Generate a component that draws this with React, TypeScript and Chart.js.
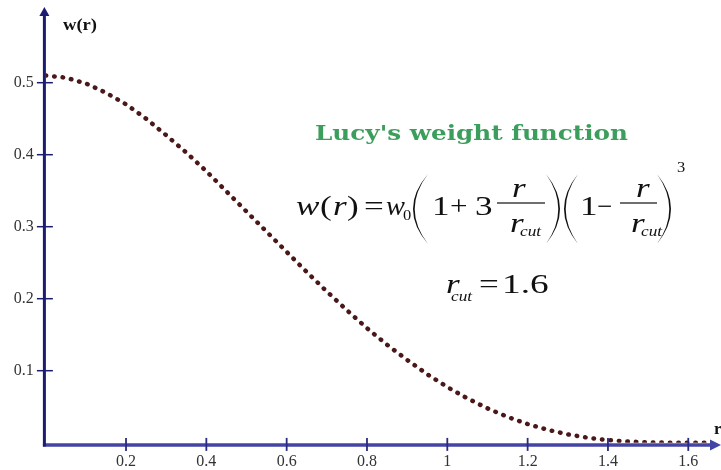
import React, { useEffect, useRef } from "react";
import { Chart, registerables } from "chart.js";

Chart.register(...registerables);

// Sampled curve of the weight function w(r)
const R_VALUES = [
  0, 0.05, 0.1, 0.15, 0.2, 0.25, 0.3, 0.35, 0.4, 0.45, 0.5, 0.55, 0.6, 0.65, 0.7, 0.75, 0.8,
  0.85, 0.9, 0.95, 1.0, 1.05, 1.1, 1.15, 1.2, 1.25, 1.3, 1.35, 1.4, 1.45, 1.5, 1.55, 1.6, 1.65,
];
const W_VALUES = [
  0.51, 0.507, 0.499, 0.486, 0.47, 0.45, 0.427, 0.403, 0.377, 0.349, 0.321, 0.293, 0.265, 0.237,
  0.21, 0.184, 0.159, 0.136, 0.115, 0.0951, 0.0773, 0.0615, 0.0477, 0.0358, 0.0259, 0.0179,
  0.0116, 0.0069, 0.0036, 0.0016, 0.0005, 0.0001, 0, 0,
];
const X_TICKS = [0.2, 0.4, 0.6, 0.8, 1, 1.2, 1.4, 1.6];
const Y_TICKS = [0.1, 0.2, 0.3, 0.4, 0.5];
const TITLE = "Lucy's weight function";
const R_CUT_LABEL = "1.6";

const Y_AXIS_COLOR = "#1c1c72";
const X_AXIS_COLOR = "#4444a6";
const CURVE_COLOR = "#4a1818";
const SERIF = "'Liberation Serif', 'Times New Roman', serif";

type Ctx = CanvasRenderingContext2D;

// draws text with an optional horizontal stretch, returns the right edge
function txt(ctx: Ctx, s: string, font: string, x: number, y: number, sx = 1) {
  ctx.save();
  ctx.font = font;
  const w = ctx.measureText(s).width * sx;
  ctx.translate(x, y);
  ctx.scale(sx, 1);
  ctx.fillText(s, 0, 0);
  ctx.restore();
  return x + w;
}

function fitText(ctx: Ctx, s: string, font: string, x: number, y: number, w: number) {
  ctx.save();
  ctx.font = font;
  const m = ctx.measureText(s).width;
  ctx.translate(x, y);
  ctx.scale(w / m, 1);
  ctx.fillText(s, 0, 0);
  ctx.restore();
}

// crescent-shaped tall bracket; dir = 1 for "(", -1 for ")"
function bigParen(ctx: Ctx, xl: number, xr: number, top: number, bot: number, dir: number) {
  const mid = (top + bot) / 2;
  const t = 1.7;
  ctx.beginPath();
  if (dir > 0) {
    ctx.moveTo(xr, top);
    ctx.quadraticCurveTo(2 * xl - xr, mid, xr, bot);
    ctx.quadraticCurveTo(2 * (xl + t) - xr, mid, xr, top);
  } else {
    ctx.moveTo(xl, top);
    ctx.quadraticCurveTo(2 * xr - xl, mid, xl, bot);
    ctx.quadraticCurveTo(2 * (xr - t) - xl, mid, xl, top);
  }
  ctx.closePath();
  ctx.fill();
}

const IT = `italic 27px ${SERIF}`;
const RG = `27px ${SERIF}`;
const SUB = `italic 15px ${SERIF}`;
const SX = 1.3;

function fraction(ctx: Ctx, x1: number, x2: number, lineY: number, numX: number, denX: number) {
  ctx.fillRect(x1, lineY - 0.6, x2 - x1, 1.2);
  txt(ctx, "r", IT, numX, lineY - 6, SX);
  txt(ctx, "r", IT, denX, lineY + 29, SX);
  txt(ctx, "cut", SUB, denX + 10, lineY + 33, 1.15);
}

const decorPlugin = {
  id: "decor",
  afterDatasetsDraw(chart: any) {
    const { ctx, scales } = chart;
    const xs = scales.x;
    const ys = scales.y;
    const x0 = xs.getPixelForValue(0) - 1.3;
    const y0 = ys.getPixelForValue(0) + 2.2;
    ctx.save();

    // x axis with arrow
    ctx.strokeStyle = X_AXIS_COLOR;
    ctx.lineWidth = 3.5;
    ctx.beginPath();
    ctx.moveTo(x0 - 1.5, y0);
    ctx.lineTo(712, y0);
    ctx.stroke();
    ctx.fillStyle = X_AXIS_COLOR;
    ctx.beginPath();
    ctx.moveTo(721, y0);
    ctx.lineTo(710, y0 - 5.5);
    ctx.lineTo(710, y0 + 5.5);
    ctx.closePath();
    ctx.fill();
    ctx.strokeStyle = "#2a2a80";
    ctx.lineWidth = 1.8;
    X_TICKS.forEach((v) => {
      const px = xs.getPixelForValue(v);
      ctx.beginPath();
      ctx.moveTo(px, y0 - 7);
      ctx.lineTo(px, y0 + 6);
      ctx.stroke();
    });

    // y axis with arrow
    ctx.strokeStyle = Y_AXIS_COLOR;
    ctx.lineWidth = 3;
    ctx.beginPath();
    ctx.moveTo(x0, y0 + 1.5);
    ctx.lineTo(x0, 14);
    ctx.stroke();
    ctx.fillStyle = Y_AXIS_COLOR;
    ctx.beginPath();
    ctx.moveTo(x0, 7);
    ctx.lineTo(x0 - 5, 16);
    ctx.lineTo(x0 + 5, 16);
    ctx.closePath();
    ctx.fill();
    ctx.lineWidth = 1.5;
    Y_TICKS.forEach((v) => {
      const py = ys.getPixelForValue(v);
      ctx.beginPath();
      ctx.moveTo(x0 - 7.5, py);
      ctx.lineTo(x0 + 8.5, py);
      ctx.stroke();
    });

    // axis names
    ctx.fillStyle = "#111";
    ctx.textBaseline = "alphabetic";
    ctx.textAlign = "left";
    fitText(ctx, "w(r)", `bold 17px ${SERIF}`, 63, 30, 34);
    txt(ctx, "r", `bold 17px ${SERIF}`, 714, 434);

    // title
    ctx.fillStyle = "#3c9e5c";
    fitText(ctx, TITLE, `bold 20.5px 'DejaVu Serif', serif`, 315, 140, 313);

    // formula
    ctx.fillStyle = "#111";
    const base = 215;
    txt(ctx, "w", IT, 296, base, SX);
    txt(ctx, "(", RG, 320, base, SX);
    txt(ctx, "r", IT, 333, base, SX);
    txt(ctx, ")", RG, 347, base, SX);
    txt(ctx, "=", RG, 364, base, SX);
    txt(ctx, "w", IT, 386, base, 1.05);
    txt(ctx, "0", `15px ${SERIF}`, 403, base + 5, 1.1);
    bigParen(ctx, 413, 428, 174, 244, 1);
    txt(ctx, "1", RG, 432, base, SX);
    txt(ctx, "+", RG, 450, base, 1.15);
    txt(ctx, "3", RG, 475, base, SX);
    fraction(ctx, 497, 545, 203, 512, 510);
    bigParen(ctx, 546, 560, 174, 244, -1);
    bigParen(ctx, 564, 578, 174, 244, 1);
    txt(ctx, "1", RG, 580, base, SX);
    txt(ctx, "\u2212", RG, 597, base, 1.0);
    fraction(ctx, 620, 657, 203, 636, 631);
    bigParen(ctx, 657, 671, 174, 244, -1);
    txt(ctx, "3", `15px ${SERIF}`, 677, 172, 1.1);

    // cutoff radius
    txt(ctx, "r", IT, 446, 293, SX);
    txt(ctx, "cut", SUB, 451, 301, 1.15);
    txt(ctx, "=", RG, 479, 293, SX);
    txt(ctx, R_CUT_LABEL, RG, 502, 293, 1.38);

    ctx.restore();
  },
};

export default function App() {
  const canvasRef = useRef<HTMLCanvasElement | null>(null);

  useEffect(() => {
    const canvas = canvasRef.current;
    if (!canvas) return;
    const chart = new Chart(canvas, {
      type: "line",
      data: {
        datasets: [
          {
            data: R_VALUES.map((r, i) => ({ x: r, y: W_VALUES[i] })),
            borderColor: CURVE_COLOR,
            borderWidth: 4.5,
            borderDash: [0.5, 8],
            borderCapStyle: "round",
            pointRadius: 0,
            tension: 0,
            fill: false,
          },
        ],
      },
      options: {
        responsive: false,
        animation: false,
        layout: { padding: { top: 10.7, right: 0.6, left: 0, bottom: 0 } },
        plugins: { legend: { display: false }, tooltip: { enabled: false } },
        scales: {
          x: {
            type: "linear",
            min: 0,
            max: 1.68,
            grid: { display: false, drawTicks: false },
            border: { display: false },
            afterFit: (s: any) => {
              s.height = 27.3;
              s.paddingLeft = 0;
              s.paddingRight = 0;
            },
            afterBuildTicks: (s: any) => {
              s.ticks = X_TICKS.map((v) => ({ value: v }));
            },
            ticks: {
              padding: 9,
              color: "#333",
              font: { family: SERIF, size: 16 },
              maxRotation: 0,
              autoSkip: false,
              callback: (v: any) => String(Number(v)),
            },
          },
          y: {
            type: "linear",
            min: 0,
            max: 0.6,
            grid: { display: false, drawTicks: false },
            border: { display: false },
            afterFit: (s: any) => {
              s.width = 45.7;
              s.paddingTop = 0;
              s.paddingBottom = 0;
            },
            afterBuildTicks: (s: any) => {
              s.ticks = Y_TICKS.map((v) => ({ value: v }));
            },
            ticks: {
              padding: 12,
              color: "#333",
              font: { family: SERIF, size: 16 },
              autoSkip: false,
              callback: (v: any) => String(Number(v)),
            },
          },
        },
      },
      plugins: [decorPlugin],
    });
    return () => chart.destroy();
  }, []);

  return (
    <div style={{ position: "absolute", left: 0, top: 0, width: 721, height: 470, background: "#fff" }}>
      <canvas ref={canvasRef} width={721} height={470} />
    </div>
  );
}
